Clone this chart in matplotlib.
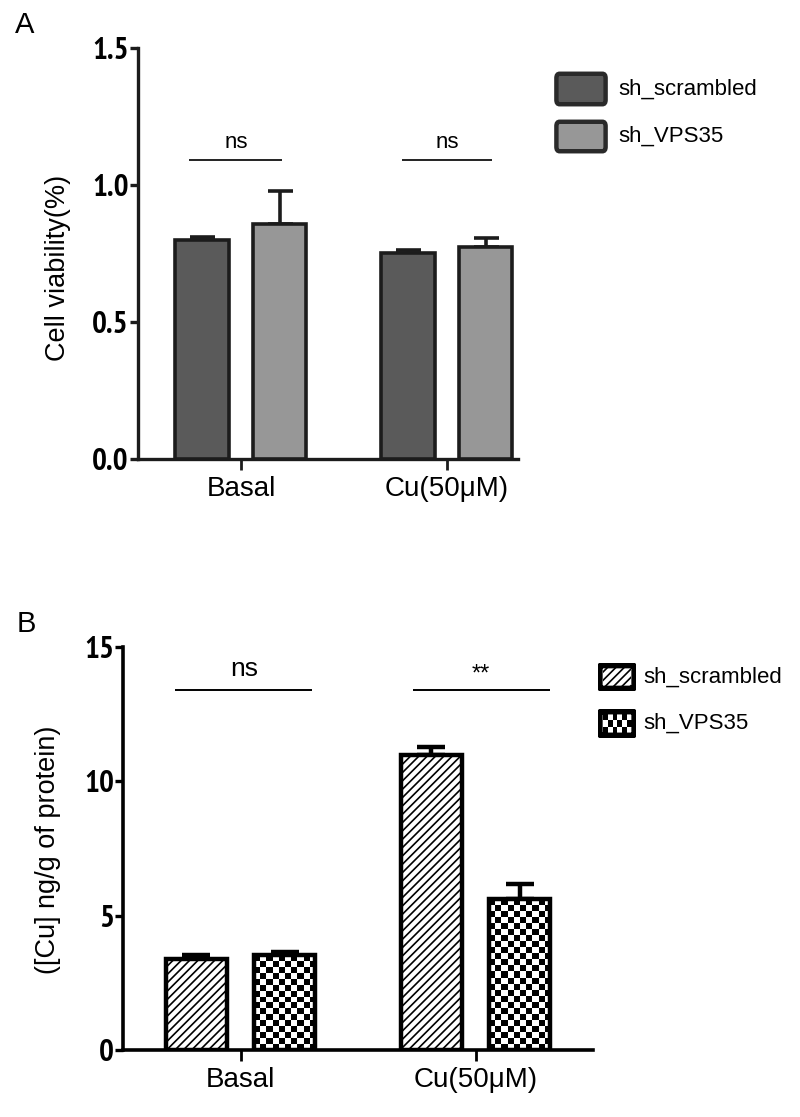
import numpy as np
import matplotlib
matplotlib.use("Agg")
import matplotlib.pyplot as plt
from matplotlib.patches import FancyBboxPatch, Rectangle
from matplotlib import font_manager as fm

# ---------------- data ----------------
groups = ["Basal", "Cu(50μM)"]
series = ["sh_scrambled", "sh_VPS35"]

viab_scr = [0.80, 0.752]
viab_scr_err = [0.010, 0.012]
viab_vps = [0.858, 0.772]
viab_vps_err = [0.120, 0.036]

cu_scr = [3.37, 10.98]
cu_scr_err = [0.15, 0.28]
cu_vps = [3.52, 5.62]
cu_vps_err = [0.14, 0.56]

sig_A = ["ns", "ns"]
sig_B = ["ns", "**"]

A_ticks = [0.0, 0.5, 1.0, 1.5]
A_ticklabels = ["0.0", "0.5", "1.0", "1.5"]
B_ticks = [0, 5, 10, 15]
B_ticklabels = ["0", "5", "10", "15"]

# ---------------- fonts ----------------
names = {f.name for f in fm.fontManager.ttflist}
narrow = "PT Sans Narrow" if "PT Sans Narrow" in names else "Liberation Sans"
plt.rcParams["font.family"] = ["Liberation Sans", "DejaVu Sans"]

W, H = 800, 1117
fig = plt.figure(figsize=(W / 100, H / 100), dpi=100)


def fbox(x0, y0, x1, y1):
    """pixel box (top-left origin) -> figure fraction rect"""
    return [x0 / W, 1 - y1 / H, (x1 - x0) / W, (y1 - y0) / H]


x = np.arange(len(groups))
bw = 0.26
off = 0.188

# ---------------- Panel A ----------------
axA = fig.add_axes(fbox(138, 48, 518, 459))
edgeA = "#1c1c1c"
axA.bar(x - off, viab_scr, bw, color="#5a5a5a", edgecolor=edgeA, linewidth=2.6, zorder=3)
axA.bar(x + off, viab_vps, bw, color="#979797", edgecolor=edgeA, linewidth=2.6, zorder=3)
axA.errorbar(x - off, viab_scr, yerr=[np.zeros(2), viab_scr_err], fmt="none",
             ecolor=edgeA, elinewidth=2.6, capsize=9, capthick=2.6, zorder=2)
axA.errorbar(x + off, viab_vps, yerr=[np.zeros(2), viab_vps_err], fmt="none",
             ecolor=edgeA, elinewidth=2.6, capsize=9, capthick=2.6, zorder=2)
axA.set_xlim(-0.5, 1.345)
axA.set_ylim(0, 1.5)
axA.set_yticks(A_ticks)
axA.set_yticklabels(A_ticklabels, fontfamily=narrow, fontweight="bold", fontsize=22.5)
axA.set_xticks(x)
axA.set_xticklabels(groups, fontsize=20)
for s in ["top", "right"]:
    axA.spines[s].set_visible(False)
for s in ["left", "bottom"]:
    axA.spines[s].set_linewidth(2.4)
    axA.spines[s].set_color(edgeA)
axA.tick_params(axis="y", length=6, width=2.4, color=edgeA, pad=0.5)
axA.tick_params(axis="x", length=8, width=2.0, color=edgeA, pad=4)
segA = [(-0.25, 0.2), (-0.22, 0.22)]
for i, (lab, (a, b)) in enumerate(zip(sig_A, segA)):
    axA.plot([i + a, i + b], [1.09, 1.09], color="#222222", lw=1.4, solid_capstyle="butt")
    axA.text(i + (a + b) / 2, 1.115, lab, ha="center", va="bottom", fontsize=16)

fig.text(58 / W, 1 - 268 / H, "Cell viability(%)", fontsize=19.5, rotation=90,
         ha="center", va="center")
fig.text(15 / W, 1 - 25 / H, "A", fontsize=21, ha="left", va="center")

# legend A
for (y0, y1), col, lab in zip([(75, 103), (123, 150)], ["#5a5a5a", "#979797"], series):
    p = FancyBboxPatch((558 / W, 1 - (y1 - 1) / H), 46 / W, (y1 - y0 - 2) / H,
                       boxstyle="round,pad=0.002,rounding_size=0.004",
                       transform=fig.transFigure, facecolor=col, edgecolor="#2a2a2a",
                       linewidth=3.2)
    fig.add_artist(p)
    fig.text(618 / W, 1 - (y0 + y1) / 2 / H, lab, fontsize=16, ha="left", va="center")

# ---------------- Panel B ----------------
axB = fig.add_axes(fbox(123, 647, 593, 1050))
axB.set_xlim(-0.5, 1.5)
axB.set_ylim(0, 15)
plt.rcParams["hatch.linewidth"] = 1.2
barsS = axB.bar(x - off, cu_scr, bw, color="white", edgecolor="black", hatch="////",
                linewidth=3.2, zorder=3)
barsV = axB.bar(x + off, cu_vps, bw, color="white", edgecolor="black",
                linewidth=3.2, zorder=4)
# checkerboard fill for sh_VPS35 bars (pattern only, clipped to the bar)
fig.canvas.draw()
cell_px = 6.0
for r in barsV:
    bx, by, bwid, bht = r.get_x(), r.get_y(), r.get_width(), r.get_height()
    p0 = axB.transData.transform((bx, by))
    p1 = axB.transData.transform((bx + bwid, by + bht))
    nx = max(1, int(round((p1[0] - p0[0]) / cell_px)))
    ny = max(1, int(round((p1[1] - p0[1]) / cell_px)))
    chk = (np.add.outer(np.arange(ny), np.arange(nx)) % 2).astype(float)
    im = axB.imshow(chk, cmap="gray", vmin=0, vmax=1, interpolation="nearest",
                    extent=(bx, bx + bwid, by, by + bht), aspect="auto", zorder=3.5)
    im.set_clip_path(r)
    r.set_facecolor("none")
axB.set_xlim(-0.5, 1.5)
axB.set_ylim(0, 15)
axB.set_aspect("auto")
axB.errorbar(x - off, cu_scr, yerr=[np.zeros(2), cu_scr_err], fmt="none",
             ecolor="black", elinewidth=3.2, capsize=10, capthick=3.2, zorder=2)
axB.errorbar(x + off, cu_vps, yerr=[np.zeros(2), cu_vps_err], fmt="none",
             ecolor="black", elinewidth=3.2, capsize=10, capthick=3.2, zorder=2)
axB.set_yticks(B_ticks)
axB.set_yticklabels(B_ticklabels, fontfamily=narrow, fontweight="bold", fontsize=22.5)
axB.set_xticks(x)
axB.set_xticklabels(groups, fontsize=20)
for s in ["top", "right"]:
    axB.spines[s].set_visible(False)
for s in ["left", "bottom"]:
    axB.spines[s].set_linewidth(2.6)
    axB.spines[s].set_color("black")
axB.tick_params(axis="y", length=6, width=2.4, pad=0.5)
axB.tick_params(axis="x", length=8, width=2.0, pad=4)
segB = [(-0.277, 0.306), (-0.268, 0.315)]
for i, (lab, (a, b)) in enumerate(zip(sig_B, segB)):
    axB.plot([i + a, i + b], [13.4, 13.4], color="black", lw=1.4, solid_capstyle="butt")
    axB.text(i + (a + b) / 2, 13.75 if lab == "ns" else 13.55, lab, ha="center",
             va="bottom", fontsize=19 if lab == "ns" else 17)

fig.text(48 / W, 1 - 850 / H, "([Cu] ng/g of protein)", fontsize=19.5, rotation=90,
         ha="center", va="center")
fig.text(17 / W, 1 - 624 / H, "B", fontsize=21, ha="left", va="center")

# legend B
for k, ((y0, y1), lab) in enumerate(zip([(663, 691), (709, 738)], series)):
    lax = fig.add_axes(fbox(598, y0, 636, y1))
    lax.set_xlim(0, 1)
    lax.set_ylim(0, 1)
    lax.axis("off")
    if k == 0:
        lax.add_patch(Rectangle((0.12, 0.18), 0.76, 0.64, facecolor="white",
                                edgecolor="black", linewidth=0, hatch="////", zorder=1))
    else:
        chk = (np.add.outer(np.arange(3), np.arange(6)) % 2).astype(float)
        lax.imshow(chk, cmap="gray", vmin=0, vmax=1, interpolation="nearest",
                   extent=(0.12, 0.88, 0.18, 0.82), aspect="auto", zorder=1)
    lax.set_xlim(0, 1)
    lax.set_ylim(0, 1)
    p = FancyBboxPatch((0.06, 0.1), 0.88, 0.8, boxstyle="round,pad=0.02,rounding_size=0.08",
                       facecolor="none", edgecolor="black", linewidth=4.5, zorder=2,
                       transform=lax.transAxes)
    lax.add_patch(p)
    fig.text(643 / W, 1 - (y0 + y1) / 2 / H, lab, fontsize=16, ha="left", va="center")

fig.savefig("out.png", dpi=100)
